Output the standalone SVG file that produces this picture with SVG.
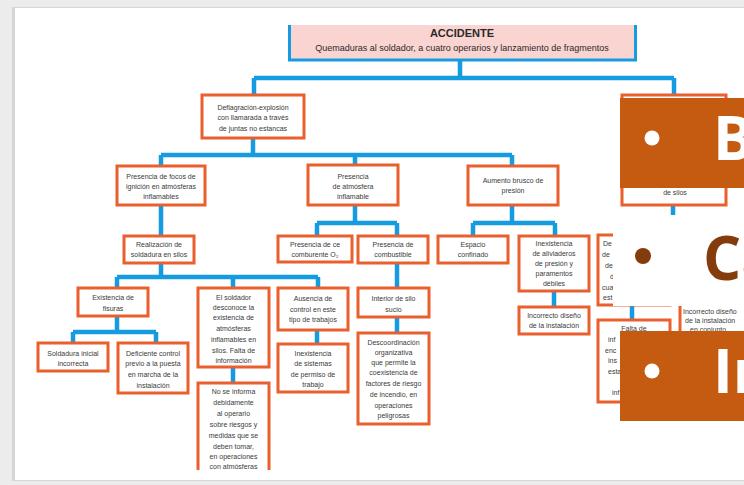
<svg xmlns="http://www.w3.org/2000/svg" width="744" height="485" viewBox="0 0 744 485">
<style>
.bx{fill:#fff;stroke:#ea5f2e;stroke-width:3}
.ln{fill:none;stroke:#159be0;stroke-width:4.5}
.t{font-family:"Liberation Sans",Arial,sans-serif;font-size:7px;fill:#3a3a3a;text-anchor:middle}
.ts{font-family:"Liberation Sans",Arial,sans-serif;font-size:7px;fill:#3a3a3a}
.big{font-family:"Open Sans","Liberation Sans",sans-serif;font-weight:bold;font-size:60px}
</style>
<rect width="744" height="485" fill="#ececec"/>
<rect x="12" y="7" width="732" height="474" fill="#d6d6d6"/>
<rect x="15" y="8" width="729" height="472" fill="#fff"/>

<g id="connectors">
<path class="ln" d="M460 61V78M254 78H674M254 78V95M674 78V95"/>
<path class="ln" d="M253 138V155M161 155H512M161 155V166M355 155V165M512 155V166"/>
<path class="ln" d="M161 205V236M161 263V277M117 277H318M117 277V288M233 277V288M318 277V288"/>
<path class="ln" d="M117 316V332M73 332H156M73 332V343M156 332V343M233 367V383M317 330V344"/>
<path class="ln" d="M355 205V223M317 223H397M317 223V236M397 223V236M397 263V288M397 317V333"/>
<path class="ln" d="M512 205V223M473 223H555M473 223V236M555 223V236M554 291V307"/>
<path class="ln" d="M673 205V222M632 305V320"/>
</g>

<g id="accidente">
<rect x="288" y="25" width="349" height="36" fill="#f9d4d1"/>
<path d="M289.5 25V61M635.5 25V61M288 60H637" fill="none" stroke="#159be0" stroke-width="3"/>
<text x="462" y="37" font-family="Liberation Sans,Arial,sans-serif" font-size="11" font-weight="bold" fill="#2a2a2a" text-anchor="middle">ACCIDENTE</text>
<text x="462" y="51" font-family="Liberation Sans,Arial,sans-serif" font-size="9" fill="#2a2a2a" text-anchor="middle">Quemaduras al soldador, a cuatro operarios y lanzamiento de fragmentos</text>
</g>

<g id="deflagracion"><rect class="bx" x="202" y="95" width="102" height="43"/>
<text class="t" x="253" y="109.5">Deflagración-explosión</text><text class="t" x="253" y="120">con llamarada a través</text><text class="t" x="253" y="130.5">de juntas no estancas</text></g>

<g id="focos"><rect class="bx" x="117" y="166" width="88" height="39"/>
<text class="t" x="161" y="178.5">Presencia de focos de</text><text class="t" x="161" y="188.5">ignición en atmósferas</text><text class="t" x="161" y="198.5">inflamables</text></g>

<g id="atmosfera"><rect class="bx" x="308" y="165" width="90" height="40"/>
<text class="t" x="353" y="178.5">Presencia</text><text class="t" x="353" y="188.5">de atmósfera</text><text class="t" x="353" y="198.5">inflamable</text></g>

<g id="aumento"><rect class="bx" x="468" y="166" width="90" height="39"/>
<text class="t" x="513" y="182.5">Aumento brusco de</text><text class="t" x="513" y="192.5">presión</text></g>

<g id="silos"><rect class="bx" x="622" y="95" width="104" height="110"/>
<text class="t" x="675" y="194.5">de silos</text></g>

<g id="realizacion"><rect class="bx" x="124" y="236" width="70" height="27"/>
<text class="t" x="159" y="246.5">Realización de</text><text class="t" x="159" y="256.5">soldadura en silos</text></g>

<g id="comburente"><rect class="bx" x="278" y="236" width="74" height="26"/>
<text class="t" x="315" y="247">Presencia de ce</text><text class="t" x="315" y="257">comburente O₂</text></g>

<g id="combustible"><rect class="bx" x="358" y="236" width="70" height="27"/>
<text class="t" x="393" y="247">Presencia de</text><text class="t" x="393" y="257">combustible</text></g>

<g id="espacio"><rect class="bx" x="438" y="236" width="70" height="27"/>
<text class="t" x="473" y="247">Espacio</text><text class="t" x="473" y="257">confinado</text></g>

<g id="aliviaderos"><rect class="bx" x="519" y="236" width="70" height="55"/>
<text class="t" x="554" y="245.5">Inexistencia</text><text class="t" x="554" y="255.5">de aliviaderos</text><text class="t" x="554" y="265.5">de presión y</text><text class="t" x="554" y="275.5">paramentos</text><text class="t" x="554" y="286">débiles</text></g>

<g id="de-box"><rect class="bx" x="598" y="235" width="72" height="70"/>
<text class="ts" x="603" y="245.5">De</text><text class="ts" x="602" y="257">de</text><text class="ts" x="605" y="267.5">de</text><text class="ts" x="610" y="278.5">d</text><text class="ts" x="602" y="289.5">cua</text><text class="ts" x="603" y="299.5">est</text></g>

<g id="existencia"><rect class="bx" x="78" y="288" width="70" height="28"/>
<text class="t" x="113" y="299.5">Existencia de</text><text class="t" x="113" y="310.5">fisuras</text></g>

<g id="soldador"><rect class="bx" x="198" y="288" width="71" height="79"/>
<text class="t" x="233.5" y="299.5">El soldador</text><text class="t" x="233.5" y="309.5">desconoce la</text><text class="t" x="233.5" y="319.5">existencia de</text><text class="t" x="233.5" y="330.5">atmósferas</text><text class="t" x="233.5" y="341.5">inflamables en</text><text class="t" x="233.5" y="352.5">silos. Falta de</text><text class="t" x="233.5" y="362.5">información</text></g>

<g id="ausencia"><rect class="bx" x="278" y="288" width="70" height="42"/>
<text class="t" x="313" y="300.5">Ausencia de</text><text class="t" x="313" y="311.5">control en este</text><text class="t" x="313" y="322">tipo de trabajos</text></g>

<g id="interior"><rect class="bx" x="358" y="288" width="71" height="29"/>
<text class="t" x="393.5" y="301">Interior de silo</text><text class="t" x="393.5" y="312">sucio</text></g>

<g id="soldadura-inicial"><rect class="bx" x="38" y="343" width="70" height="28"/>
<text class="t" x="73" y="355.5">Soldadura inicial</text><text class="t" x="73" y="365.5">incorrecta</text></g>

<g id="deficiente"><rect class="bx" x="118" y="343" width="70" height="50"/>
<text class="t" x="153" y="355.5">Deficiente control</text><text class="t" x="153" y="365.5">previo a la puesta</text><text class="t" x="153" y="376.5">en marcha de la</text><text class="t" x="153" y="387.5">instalación</text></g>

<g id="no-informa"><path d="M198 470V383H269V470" fill="#fff" stroke="#ea5f2e" stroke-width="3"/>
<text class="t" x="233.5" y="393.5">No se informa</text><text class="t" x="233.5" y="404.5">debidamente</text><text class="t" x="233.5" y="415.5">al operario</text><text class="t" x="233.5" y="426.5">sobre riesgos y</text><text class="t" x="233.5" y="437.5">medidas que se</text><text class="t" x="233.5" y="448.5">deben tomar,</text><text class="t" x="233.5" y="458.5">en operaciones</text><text class="t" x="233.5" y="468.5">con atmósferas</text></g>

<g id="permiso"><rect class="bx" x="278" y="344" width="70" height="48"/>
<text class="t" x="313" y="355.5">Inexistencia</text><text class="t" x="313" y="365.5">de sistemas</text><text class="t" x="313" y="376.5">de permiso de</text><text class="t" x="313" y="386.5">trabajo</text></g>

<g id="descoordinacion"><rect class="bx" x="358" y="333" width="71" height="91"/>
<text class="t" x="393.5" y="344.5">Descoordinación</text><text class="t" x="393.5" y="354.5">organizativa</text><text class="t" x="393.5" y="364.5">que permite la</text><text class="t" x="393.5" y="374.5">coexistencia de</text><text class="t" x="393.5" y="385.5">factores de riesgo</text><text class="t" x="393.5" y="396.5">de incendio, en</text><text class="t" x="393.5" y="407.5">operaciones</text><text class="t" x="393.5" y="417.5">peligrosas</text></g>

<g id="incorrecto-diseno"><rect class="bx" x="519" y="307" width="70" height="27"/>
<text class="t" x="554" y="317.5">Incorrecto diseño</text><text class="t" x="554" y="327.5">de la instalación</text></g>

<g id="falta"><rect class="bx" x="598" y="320" width="72" height="82"/>
<text class="t" x="634" y="330.5">Falta de</text><text class="ts" x="608" y="341.5">inf</text><text class="ts" x="605" y="352.5">enc</text><text class="ts" x="608" y="362.5">ins</text><text class="ts" x="608" y="373.5">esta</text><text class="ts" x="612" y="394.5">inf</text></g>

<g id="incorrecto-conjunto"><rect class="bx" x="680" y="302" width="80" height="60"/>
<text class="ts" x="683" y="313.5">Incorrecto diseño</text><text class="ts" x="685" y="322.5">de la instalación</text><text class="ts" x="690" y="331.5">en conjunto</text></g>

<g id="bullet-b"><rect x="620" y="98" width="124" height="90" fill="#c55a11"/>
<circle cx="652" cy="138" r="7.5" fill="#fff"/>
<text class="big" x="713" y="160" fill="#fff">B</text></g>

<g id="bullet-ca"><rect x="613" y="215" width="131" height="91" fill="#fff"/>
<circle cx="643" cy="256" r="8" fill="#843c0c"/>
<text class="big" x="703" y="280" fill="#843c0c">Ca</text></g>

<g id="bullet-in"><rect x="620" y="331" width="124" height="90" fill="#c55a11"/>
<circle cx="652" cy="371" r="7.5" fill="#fff"/>
<text class="big" x="713" y="393" fill="#fff">In</text></g>
</svg>
